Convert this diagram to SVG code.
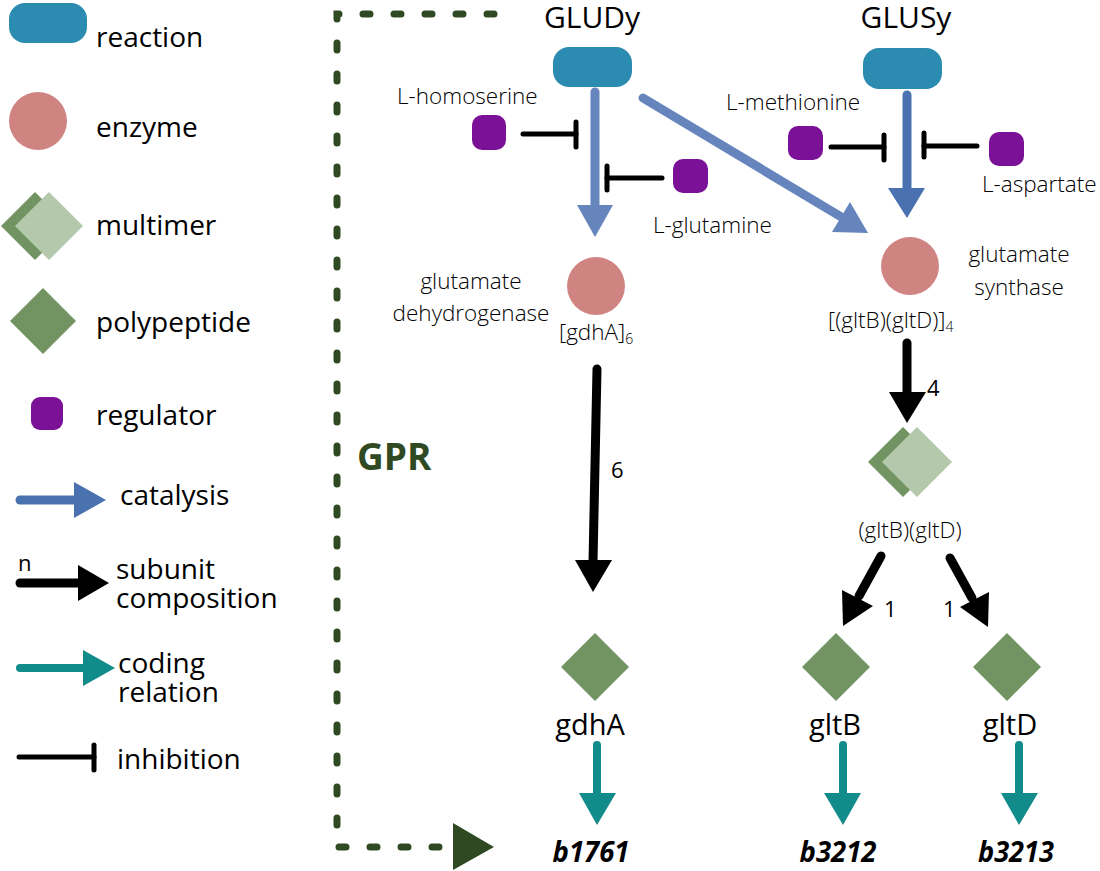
<svg xmlns="http://www.w3.org/2000/svg" width="1100" height="871" viewBox="0 0 1100 871">
<style>
text{font-family:"Open Sans","Noto Sans","Liberation Sans",sans-serif;fill:#000}
.leg{font-size:28px}
.lab{font-size:22.5px;font-weight:300}
.rxn{font-size:30px}
.gene{font-size:29px}
.num{font-size:22px}
.locus{font-size:29px;font-weight:bold;font-style:italic}
.reaction{fill:#2b8bb0}
.enzyme{fill:#d08482}
.reg{fill:#7b1196}
.poly{fill:#729462}
.multi{fill:#b4c8ac}
.cat1{stroke:#6585bc;stroke-width:9;stroke-linecap:round;fill:none}
.cat2{stroke:#4a72b0;stroke-width:9;stroke-linecap:round;fill:none}
.sub{stroke:#000;stroke-width:9;stroke-linecap:round;fill:none}
.cod{stroke:#128b8b;stroke-width:8;stroke-linecap:round;fill:none}
.inh{stroke:#000;stroke-width:5;stroke-linecap:round;fill:none}
.gpr{stroke:#2f4a22;stroke-width:7;stroke-linecap:round;stroke-dasharray:7 24;fill:none}
</style>
<rect width="1100" height="871" fill="#fff"/>
<g id="legend">
  <rect class="reaction" x="9" y="3" width="78" height="40" rx="16"/>
  <text class="leg" x="96" y="47">reaction</text>
  <circle class="enzyme" cx="38" cy="121" r="29"/>
  <text class="leg" x="96" y="137">enzyme</text>
  <polygon class="poly" points="1,226 35,192 69,226 35,260"/>
  <polygon class="multi" points="15,226 49,192 83,226 49,260"/>
  <text class="leg" x="96" y="235">multimer</text>
  <polygon class="poly" points="10,321 43,288 76,321 43,354"/>
  <text class="leg" x="96" y="332">polypeptide</text>
  <rect class="reg" x="31" y="397" width="32" height="33" rx="9"/>
  <text class="leg" x="96" y="425">regulator</text>
  <line class="cat2" x1="20" y1="500" x2="76" y2="500"/>
  <polygon fill="#4a72b0" points="74,482 106,500 74,518"/>
  <text class="leg" x="120" y="505">catalysis</text>
  <text class="num" x="18" y="571">n</text>
  <line class="sub" x1="20" y1="583" x2="80" y2="583"/>
  <polygon fill="#000" points="78,565 109,583 78,601"/>
  <text class="leg" x="116" y="579">subunit</text>
  <text class="leg" x="116" y="608">composition</text>
  <line class="cod" x1="20" y1="668" x2="85" y2="668"/>
  <polygon fill="#128b8b" points="83,650 115,668 83,686"/>
  <text class="leg" x="118" y="673">coding</text>
  <text class="leg" x="118" y="702">relation</text>
  <line class="inh" x1="19" y1="757" x2="94" y2="757"/>
  <line class="inh" x1="94" y1="745" x2="94" y2="770"/>
  <text class="leg" x="117" y="769">inhibition</text>
</g>
<g id="gpr">
  <path class="gpr" d="M494,14 H337 V847 H440"/>
  <polygon fill="#2f4a22" points="453,823 494,847 453,870"/>
  <text x="357" y="470" style="font-size:37px;font-weight:bold;fill:#2f4a22">GPR</text>
</g>
<g id="connectors">
  <line class="cat1" x1="595" y1="92" x2="595" y2="207"/>
  <polygon fill="#6585bc" points="577,205 613,205 595,237"/>
  <line class="cat1" x1="643" y1="98" x2="843" y2="218"/>
  <polygon fill="#6585bc" points="850,202 832,232 868,233"/>
  <line class="cat2" x1="907" y1="95" x2="907" y2="190"/>
  <polygon fill="#4a72b0" points="888,188 925,188 907,218"/>
  <line class="inh" x1="523" y1="134" x2="576" y2="134"/>
  <line class="inh" x1="576" y1="122" x2="576" y2="147"/>
  <line class="inh" x1="662" y1="178" x2="607" y2="178"/>
  <line class="inh" x1="607" y1="166" x2="607" y2="190"/>
  <line class="inh" x1="831" y1="147" x2="884" y2="147"/>
  <line class="inh" x1="884" y1="135" x2="884" y2="160"/>
  <line class="inh" x1="977" y1="146" x2="924" y2="146"/>
  <line class="inh" x1="924" y1="133" x2="924" y2="157"/>
  <line class="sub" x1="597" y1="369" x2="593" y2="562"/>
  <polygon fill="#000" points="575,560 612,560 593,592"/>
  <text class="num" x="611" y="478">6</text>
  <line class="sub" x1="907" y1="343" x2="907" y2="394"/>
  <polygon fill="#000" points="889,392 926,392 907,423"/>
  <text class="num" x="927" y="396">4</text>
  <line class="sub" x1="881" y1="556" x2="859" y2="596"/>
  <polygon fill="#000" points="842,590 873,606 843,626"/>
  <text class="num" x="884" y="617">1</text>
  <line class="sub" x1="950" y1="558" x2="972" y2="598"/>
  <polygon fill="#000" points="960,607 989,592 988,627"/>
  <text class="num" x="943" y="617">1</text>
  <line class="cod" x1="597" y1="745" x2="597" y2="795"/>
  <polygon fill="#128b8b" points="579,793 616,793 597,825"/>
  <line class="cod" x1="843" y1="745" x2="843" y2="795"/>
  <polygon fill="#128b8b" points="824,793 861,793 843,825"/>
  <line class="cod" x1="1019" y1="745" x2="1019" y2="795"/>
  <polygon fill="#128b8b" points="1001,793 1038,793 1019,825"/>
</g>
<g id="GLUDy">
  <text class="rxn" x="592" y="28" text-anchor="middle">GLUDy</text>
  <rect class="reaction" x="553" y="47" width="79" height="40" rx="16"/>
</g>
<g id="GLUSy">
  <text class="rxn" x="906" y="28" text-anchor="middle">GLUSy</text>
  <rect class="reaction" x="863" y="48" width="79" height="41" rx="16"/>
</g>
<g id="L-homoserine">
  <text class="lab" x="397" y="104">L-homoserine</text>
  <rect class="reg" x="472" y="115" width="34" height="35" rx="10"/>
</g>
<g id="L-glutamine">
  <rect class="reg" x="673" y="159" width="35" height="34" rx="10"/>
  <text class="lab" x="653" y="233">L-glutamine</text>
</g>
<g id="L-methionine">
  <text class="lab" x="726" y="110">L-methionine</text>
  <rect class="reg" x="788" y="126" width="35" height="34" rx="10"/>
</g>
<g id="L-aspartate">
  <rect class="reg" x="989" y="132" width="35" height="34" rx="10"/>
  <text class="lab" x="982" y="192">L-aspartate</text>
</g>
<g id="gdh_enzyme">
  <circle class="enzyme" cx="596" cy="286" r="29"/>
  <text class="lab" x="471" y="289" text-anchor="middle">glutamate</text>
  <text class="lab" x="471" y="321" text-anchor="middle">dehydrogenase</text>
  <text class="lab" x="559" y="340">[gdhA]<tspan font-size="14" dy="4">6</tspan></text>
</g>
<g id="glts_enzyme">
  <circle class="enzyme" cx="910" cy="266" r="29"/>
  <text class="lab" x="1019" y="262" text-anchor="middle">glutamate</text>
  <text class="lab" x="1019" y="295" text-anchor="middle">synthase</text>
  <text class="lab" x="828" y="328">[(gltB)(gltD)]<tspan font-size="14" dy="4">4</tspan></text>
</g>
<g id="gltBgltD_multimer">
  <polygon class="poly" points="868,462 903,427 938,462 903,497"/>
  <polygon class="multi" points="882,462 917,427 952,462 917,497"/>
  <text class="lab" x="910" y="538" text-anchor="middle">(gltB)(gltD)</text>
</g>
<g id="gdhA">
  <polygon class="poly" points="561,667 595,633 629,667 595,701"/>
  <text class="gene" x="590" y="735" text-anchor="middle">gdhA</text>
</g>
<g id="gltB">
  <polygon class="poly" points="802,667 836,633 870,667 836,701"/>
  <text class="gene" x="835" y="735" text-anchor="middle">gltB</text>
</g>
<g id="gltD">
  <polygon class="poly" points="973,667 1007,633 1041,667 1007,701"/>
  <text class="gene" x="1010" y="735" text-anchor="middle">gltD</text>
</g>
<g id="b1761"><text class="locus" x="591" y="862" text-anchor="middle" textLength="77" lengthAdjust="spacingAndGlyphs">b1761</text></g>
<g id="b3212"><text class="locus" x="838" y="862" text-anchor="middle" textLength="77" lengthAdjust="spacingAndGlyphs">b3212</text></g>
<g id="b3213"><text class="locus" x="1016" y="862" text-anchor="middle" textLength="76" lengthAdjust="spacingAndGlyphs">b3213</text></g>
</svg>
